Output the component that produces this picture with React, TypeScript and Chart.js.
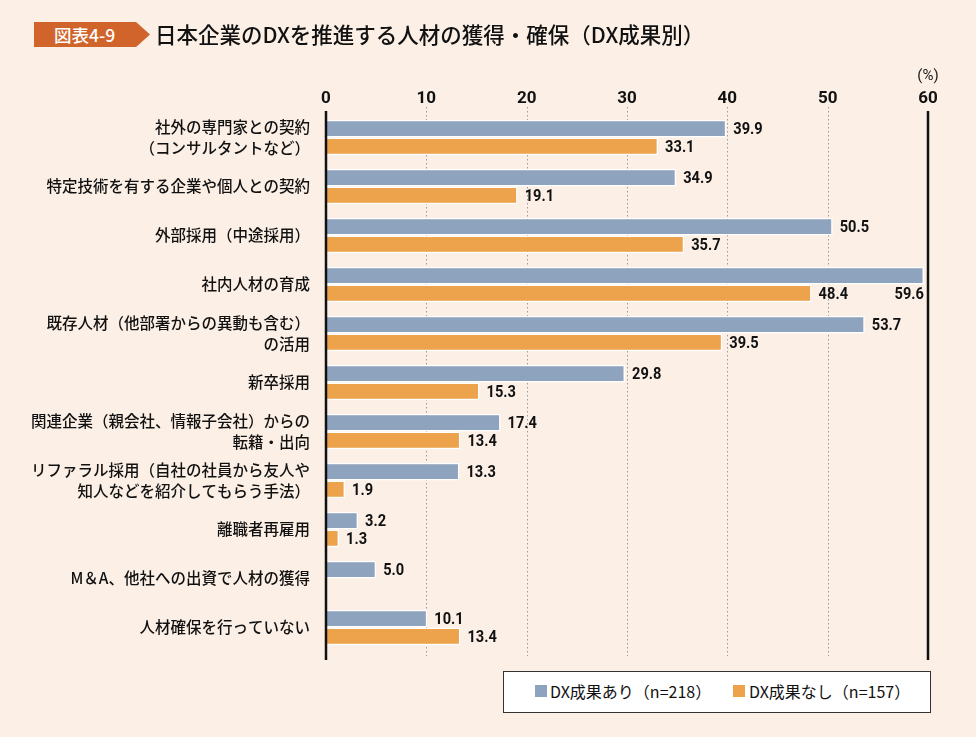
import React, { useEffect, useRef } from "react";
import { Chart, registerables } from "chart.js";

Chart.register(...registerables);

const categories: (string | string[])[] = [
  ["社外の専門家との契約", "（コンサルタントなど）"],
  "特定技術を有する企業や個人との契約",
  "外部採用（中途採用）",
  "社内人材の育成",
  ["既存人材（他部署からの異動も含む）", "の活用"],
  "新卒採用",
  ["関連企業（親会社、情報子会社）からの", "転籍・出向"],
  ["リファラル採用（自社の社員から友人や", "知人などを紹介してもらう手法）"],
  "離職者再雇用",
  "M＆A、他社への出資で人材の獲得",
  "人材確保を行っていない",
];

const seriesWith: (number | null)[] = [39.9, 34.9, 50.5, 59.6, 53.7, 29.8, 17.4, 13.3, 3.2, 5.0, 10.1];
const seriesWithout: (number | null)[] = [33.1, 19.1, 35.7, 48.4, 39.5, 15.3, 13.4, 1.9, 1.3, null, 13.4];

const seriesNames = ["DX成果あり（n=218）", "DX成果なし（n=157）"];
const xTicks = [0, 10, 20, 30, 40, 50, 60];

const BG = "#fbefe6";
const BLUE = "#8ea3be";
const ORANGE = "#eda34c";
const NUM_FONT = "Roboto, 'Noto Sans', sans-serif";
const JP_FONT = "'Noto Sans CJK JP', 'Noto Sans', sans-serif";
const SQUEEZE = 0.86;

const linesPlugin = {
  id: "customLines",
  beforeDatasetsDraw(chart: any) {
    const { ctx, chartArea, scales } = chart;
    const x = scales.x;
    ctx.save();
    ctx.strokeStyle = "#9a9a9a";
    ctx.lineWidth = 1;
    ctx.setLineDash([1.5, 2.5]);
    xTicks.forEach((v) => {
      if (v === 0 || v === 60) return;
      const px = Math.round(x.getPixelForValue(v)) + 0.5;
      ctx.beginPath();
      ctx.moveTo(px, chartArea.top - 6);
      ctx.lineTo(px, chartArea.bottom + 4);
      ctx.stroke();
    });
    ctx.restore();
  },
  afterDatasetsDraw(chart: any) {
    const { ctx, chartArea, scales } = chart;
    const x = scales.x;
    ctx.save();
    ctx.strokeStyle = "#111";
    ctx.lineWidth = 2.5;
    [0, 60].forEach((v) => {
      const px = x.getPixelForValue(v);
      ctx.beginPath();
      ctx.moveTo(px, chartArea.top - 2);
      ctx.lineTo(px, chartArea.bottom + 8);
      ctx.stroke();
    });
    // unit label
    ctx.fillStyle = "#222";
    ctx.font = `15px ${NUM_FONT}`;
    ctx.textAlign = "center";
    ctx.textBaseline = "middle";
    ctx.fillText("(%)", x.getPixelForValue(60), 76);

    // value labels (slightly condensed)
    ctx.font = `bold 17px ${NUM_FONT}`;
    ctx.fillStyle = "#111";
    ctx.textBaseline = "middle";
    chart.data.datasets.forEach((ds: any, di: number) => {
      const meta = chart.getDatasetMeta(di);
      meta.data.forEach((el: any, i: number) => {
        const v = ds.data[i];
        if (v === null || v === undefined) return;
        const txt = v.toFixed(1);
        const w = ctx.measureText(txt).width * SQUEEZE;
        let tx: number;
        let ty: number;
        if (el.x + 6 + w > chartArea.right - 4) {
          tx = el.x - w;
          ty = el.y + el.height + 1;
        } else {
          tx = el.x + 7;
          ty = el.y + 1;
        }
        ctx.save();
        ctx.translate(tx, ty);
        ctx.scale(SQUEEZE, 1);
        ctx.textAlign = "left";
        ctx.fillText(txt, 0, 0);
        ctx.restore();
      });
    });
    ctx.restore();
  },
};

export default function App() {
  const ref = useRef<HTMLCanvasElement | null>(null);

  useEffect(() => {
    if (!ref.current) return;
    const chart = new Chart(ref.current, {
      type: "bar",
      data: {
        labels: categories,
        datasets: [
          {
            label: seriesNames[0],
            data: seriesWith,
            backgroundColor: BLUE,
            borderColor: "#ffffff",
            borderWidth: 1.5,
            borderSkipped: "start",
            categoryPercentage: 0.72,
            barPercentage: 1.0,
          },
          {
            label: seriesNames[1],
            data: seriesWithout,
            backgroundColor: ORANGE,
            borderColor: "#ffffff",
            borderWidth: 1.5,
            borderSkipped: "start",
            categoryPercentage: 0.72,
            barPercentage: 1.0,
          },
        ],
      },
      options: {
        indexAxis: "y",
        responsive: false,
        animation: false,
        layout: { padding: { left: 0, right: 48, top: 0, bottom: 85 } },
        plugins: {
          legend: { display: false },
          tooltip: { enabled: false },
          title: { display: false },
        },
        scales: {
          x: {
            position: "top",
            min: 0,
            max: 60,
            afterFit(scale: any) {
              scale.height = 113;
            },
            afterBuildTicks(scale: any) {
              scale.ticks = xTicks.map((v) => ({ value: v }));
            },
            grid: { display: false, drawTicks: false },
            border: { display: false },
            ticks: {
              color: "#111",
              padding: 4,
              font: { family: NUM_FONT, size: 17, weight: "bold" },
            },
          },
          y: {
            afterFit(scale: any) {
              scale.width = 326;
            },
            grid: { display: false, drawTicks: false },
            border: { display: false },
            ticks: {
              color: "#111",
              padding: 16,
              font: { family: JP_FONT, size: 15.5, weight: "500", lineHeight: 1.4 },
            },
          },
        },
      },
      plugins: [linesPlugin],
    });
    return () => chart.destroy();
  }, []);

  return (
    <div
      style={{
        position: "fixed",
        left: 0,
        top: 0,
        width: 976,
        height: 737,
        background: BG,
        overflow: "hidden",
        fontFamily: JP_FONT,
      }}
    >
      <canvas ref={ref} width={976} height={737} style={{ position: "absolute", left: 0, top: 0 }} />
      <div
        style={{
          position: "absolute",
          left: 34,
          top: 22,
          width: 116,
          height: 25,
          background: "#d0642a",
          clipPath: "polygon(0 0, 88% 0, 100% 50%, 88% 100%, 0 100%)",
          color: "#fff",
          fontSize: 17.5,
          lineHeight: "25px",
          paddingLeft: 20,
          boxSizing: "border-box",
          fontWeight: 500,
          whiteSpace: "nowrap",
        }}
      >
        図表4-9
      </div>
      <div
        style={{
          position: "absolute",
          left: 155,
          top: 18,
          fontSize: 21.5,
          lineHeight: "32px",
          color: "#111",
          fontWeight: 500,
          whiteSpace: "nowrap",
        }}
      >
        日本企業のDXを推進する人材の獲得・確保（DX成果別）
      </div>
      <div
        style={{
          position: "absolute",
          left: 503,
          top: 671,
          width: 428,
          height: 42,
          background: "#fff",
          border: "1.5px solid #333",
          boxSizing: "border-box",
          fontSize: 16,
          color: "#111",
          whiteSpace: "nowrap",
        }}
      >
        <span style={{ position: "absolute", left: 31, top: 13, width: 12, height: 12, background: BLUE }} />
        <span style={{ position: "absolute", left: 46, top: 7, lineHeight: "24px" }}>{seriesNames[0]}</span>
        <span style={{ position: "absolute", left: 229, top: 13, width: 12, height: 12, background: ORANGE }} />
        <span style={{ position: "absolute", left: 245, top: 7, lineHeight: "24px" }}>{seriesNames[1]}</span>
      </div>
    </div>
  );
}
